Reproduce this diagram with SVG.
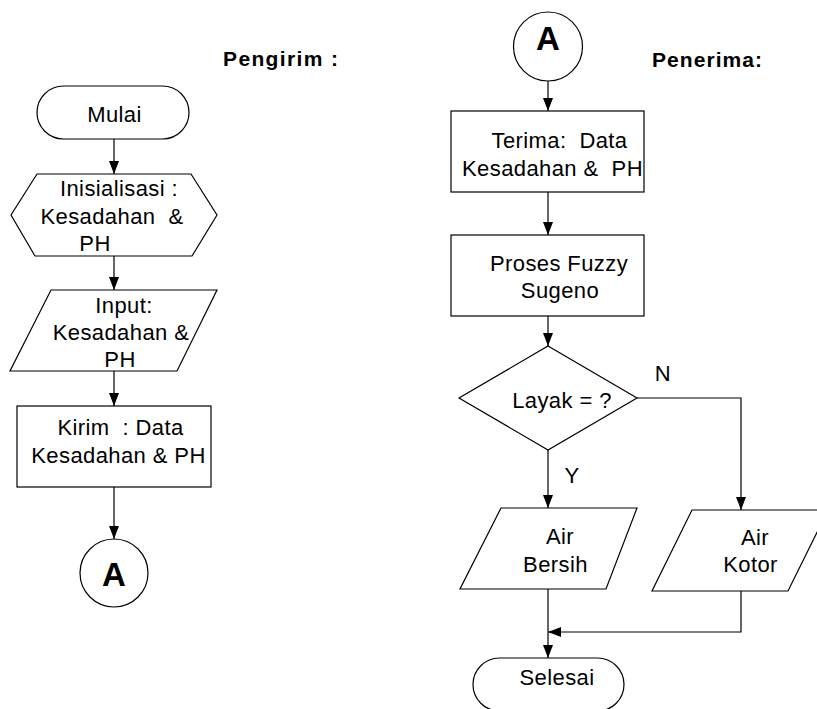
<svg xmlns="http://www.w3.org/2000/svg" width="817" height="709" viewBox="0 0 817 709">
<style>
.s{fill:#fff;stroke:#000;stroke-width:1.2}
.t{font-family:"Liberation Sans",Arial,sans-serif;font-size:22px;fill:#000;text-anchor:middle;letter-spacing:0.4px}
.b{font-family:"Liberation Sans",Arial,sans-serif;font-weight:bold;fill:#000}
.c{fill:none;stroke:#000;stroke-width:1.2}
</style>
<defs>
<marker id="ah" viewBox="0 0 13 10" refX="13" refY="5" markerWidth="13" markerHeight="10" markerUnits="userSpaceOnUse" orient="auto">
<path d="M0,0 L13,5 L0,10 z" fill="#000"/>
</marker>
</defs>
<rect width="817" height="709" fill="#fff"/>
<text class="b" x="223" y="66" font-size="21" textLength="115">Pengirim :</text>
<text class="b" x="652" y="67" font-size="21" textLength="110">Penerima:</text>
<g id="connectors">
<path class="c" d="M114,139 V174" marker-end="url(#ah)"/>
<path class="c" d="M114,256 V290" marker-end="url(#ah)"/>
<path class="c" d="M114,371 V406" marker-end="url(#ah)"/>
<path class="c" d="M114,487 V539" marker-end="url(#ah)"/>
<path class="c" d="M548,81 V111" marker-end="url(#ah)"/>
<path class="c" d="M548,192 V235" marker-end="url(#ah)"/>
<path class="c" d="M548,316 V346" marker-end="url(#ah)"/>
<path class="c" d="M548,450 V508" marker-end="url(#ah)"/>
<path class="c" d="M637,398 H741 V510" marker-end="url(#ah)"/>
<path class="c" d="M548,589 V658" marker-end="url(#ah)"/>
<path class="c" d="M741,591 V632 H548" marker-end="url(#ah)"/>
<text class="t" x="663" y="381">N</text>
<text class="t" x="572" y="483">Y</text>
</g>
<g id="mulai">
<rect class="s" x="37" y="86" width="152" height="53" rx="26.5"/>
<text class="t" x="114.5" y="122">Mulai</text>
</g>
<g id="inisialisasi">
<polygon class="s" points="37,174 191,174 217,215 192,256 35,256 11,215"/>
<text class="t" x="119" y="196">Inisialisasi :</text>
<text class="t" x="112" y="224" xml:space="preserve">Kesadahan  &amp;</text>
<text class="t" x="95" y="251">PH</text>
</g>
<g id="input">
<polygon class="s" points="51,290 217,290 177,371 10,371"/>
<text class="t" x="124" y="313">Input:</text>
<text class="t" x="121" y="340">Kesadahan &amp;</text>
<text class="t" x="120" y="367">PH</text>
</g>
<g id="kirim">
<rect class="s" x="17" y="406" width="194" height="81"/>
<text class="t" x="120.5" y="435" xml:space="preserve">Kirim  : Data</text>
<text class="t" x="118.5" y="463">Kesadahan &amp; PH</text>
</g>
<g id="a-out">
<circle class="s" cx="114" cy="573" r="34"/>
<text class="b" x="114" y="586" font-size="33" text-anchor="middle">A</text>
</g>
<g id="a-in">
<circle class="s" cx="548" cy="46.5" r="34.5"/>
<text class="b" x="548" y="50" font-size="33" text-anchor="middle">A</text>
</g>
<g id="terima">
<rect class="s" x="451" y="111" width="193" height="81"/>
<text class="t" x="559.5" y="148" xml:space="preserve">Terima:  Data</text>
<text class="t" x="552.5" y="176" xml:space="preserve">Kesadahan &amp;  PH</text>
</g>
<g id="proses">
<rect class="s" x="451" y="235" width="193" height="81"/>
<text class="t" x="559" y="271">Proses Fuzzy</text>
<text class="t" x="560" y="298">Sugeno</text>
</g>
<g id="layak">
<polygon class="s" points="548,346 637,398 548,450 459,398"/>
<text class="t" x="562" y="408">Layak = ?</text>
</g>
<g id="bersih">
<polygon class="s" points="501,508 637,508 606,589 460,589"/>
<text class="t" x="560" y="544">Air</text>
<text class="t" x="555.5" y="572">Bersih</text>
</g>
<g id="kotor">
<polygon class="s" points="692,510 828,510 788,591 652,591"/>
<text class="t" x="755" y="545">Air</text>
<text class="t" x="750.5" y="572">Kotor</text>
</g>
<g id="selesai">
<rect class="s" x="473" y="658" width="151" height="53" rx="26.5"/>
<text class="t" x="557" y="685">Selesai</text>
</g>
</svg>
